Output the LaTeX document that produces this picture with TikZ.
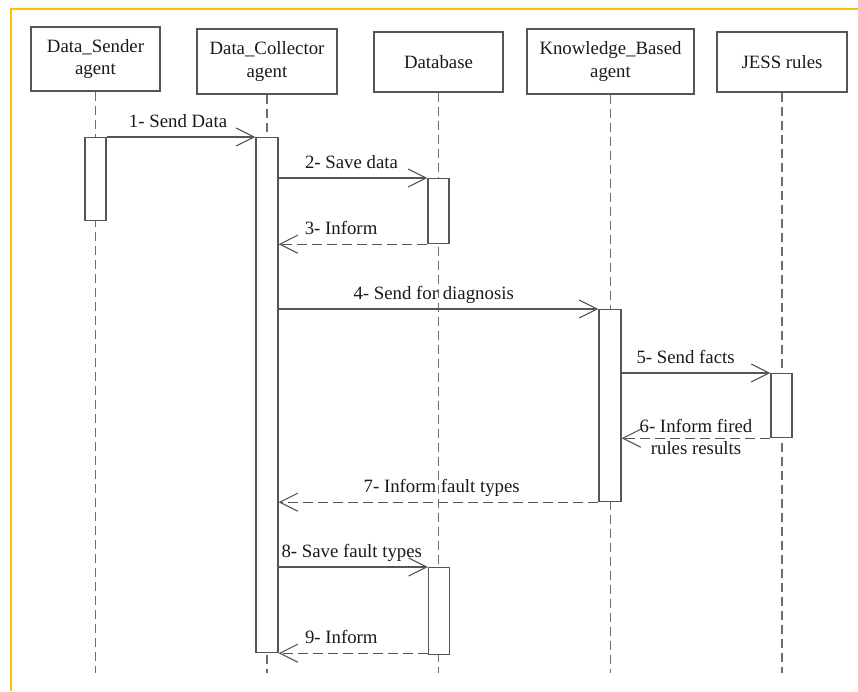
\documentclass[tikz,border=0pt]{standalone}
\usepackage{fontspec}
\setmainfont{Liberation Serif}
\usetikzlibrary{arrows.meta,calc}
\definecolor{frameyellow}{HTML}{FFC000}
\definecolor{edgegray}{HTML}{555555}
\definecolor{lifegray}{HTML}{6E6E6E}
\definecolor{txt}{HTML}{1A1A1A}
\tikzset{
  x=1pt, y=-1pt,
  every node/.style={font=\fontsize{18.8}{22.5}\selectfont, text=txt},
  partbox/.style={draw=edgegray, line width=1.2pt, fill=white, inner sep=0pt, align=center},
  actbox/.style={draw=edgegray, line width=1.2pt, fill=white, inner sep=0pt, minimum width=21pt},
  lifeline/.style={draw=lifegray, line width=1.2pt, dash pattern=on 9pt off 5pt},
  msg/.style={draw=edgegray, line width=1.1pt, -{Straight Barb[length=18pt,width=18pt]}},
  reply/.style={msg, dash pattern=on 10pt off 5pt},
  lab/.style={inner sep=0pt, anchor=base, yshift=9.5pt}
}
\begin{document}
\begin{tikzpicture}
\useasboundingbox (0,0) rectangle (858,691);
\draw[frameyellow, line width=2pt] (10.5,691) -- (10.5,8.5) -- (858,8.5);

% participants
\node[partbox, minimum width=129pt, minimum height=64pt] (ds) at (95.5,59) {Data\_Sender\\agent};
\node[partbox, minimum width=140pt, minimum height=65pt] (dc) at (267,61.5) {Data\_Collector\\agent};
\node[partbox, minimum width=129pt, minimum height=60pt] (db) at (438.5,62) {Database};
\node[partbox, minimum width=167pt, minimum height=65pt] (kb) at (610.5,61.5) {Knowledge\_Based\\agent};
\node[partbox, minimum width=130pt, minimum height=60pt] (jr) at (782,62) {JESS rules};

% lifeline ends
\coordinate (dsE) at (ds.south |- 0,673);
\coordinate (dcE) at (dc.south |- 0,673);
\coordinate (dbE) at (db.south |- 0,673);
\coordinate (kbE) at (kb.south |- 0,673);
\coordinate (jrE) at (jr.south |- 0,673);
\draw[lifeline] (ds.south) -- (dsE);
\draw[lifeline] (dc.south) -- (dcE);
\draw[lifeline] (db.south) -- (dbE);
\draw[lifeline] (kb.south) -- (kbE);
\draw[lifeline] (jr.south) -- (jrE);

% activations
\node[actbox, minimum height=83pt, anchor=north] (dsA) at (95.5,137) {};
\node[actbox, minimum width=22pt, minimum height=515pt, anchor=north] (dcA) at (267,137) {};
\node[actbox, minimum height=65pt, anchor=north] (dbA) at (438.5,178) {};
\node[actbox, minimum height=87pt, anchor=north] (dbB) at (439,567) {};
\node[actbox, minimum width=22pt, minimum height=192pt, anchor=north] (kbA) at (610,309) {};
\node[actbox, minimum height=64pt, anchor=north] (jrA) at (781.5,373) {};

% messages
\draw[msg] (dsA.north east) -- (dcA.north west)
  node[lab, pos=0.48] {1- Send Data};
\draw[msg] (dcA.east |- dbA.north) -- (dbA.north west)
  node[lab, pos=0.49] {2- Save data};
\draw[reply] (dbA.south west) -- (dcA.east |- dbA.south)
  node[lab, pos=0.58] {3- Inform};
\draw[msg] (dcA.east |- kbA.north) -- (kbA.north west)
  node[lab, pos=0.485] {4- Send for diagnosis};
\draw[msg] (kbA.east |- jrA.north) -- (jrA.north west)
  node[lab, pos=0.43] {5- Send facts};
\draw[reply] (jrA.south west) -- (kbA.east |- jrA.south)
  node[pos=0.5, inner sep=0pt, align=center, yshift=1pt, font=\fontsize{18.8}{21.5}\selectfont] {6- Inform fired\\rules results};
\draw[reply] (kbA.south west) -- (dcA.east |- kbA.south)
  node[lab, pos=0.49] {7- Inform fault types};
\draw[msg] (dcA.east |- dbB.north) -- (dbB.north west)
  node[lab, pos=0.49] {8- Save fault types};
\draw[reply] (dbB.west |- dcA.south) -- (dcA.south east)
  node[lab, pos=0.58] {9- Inform};
\end{tikzpicture}
\end{document}
